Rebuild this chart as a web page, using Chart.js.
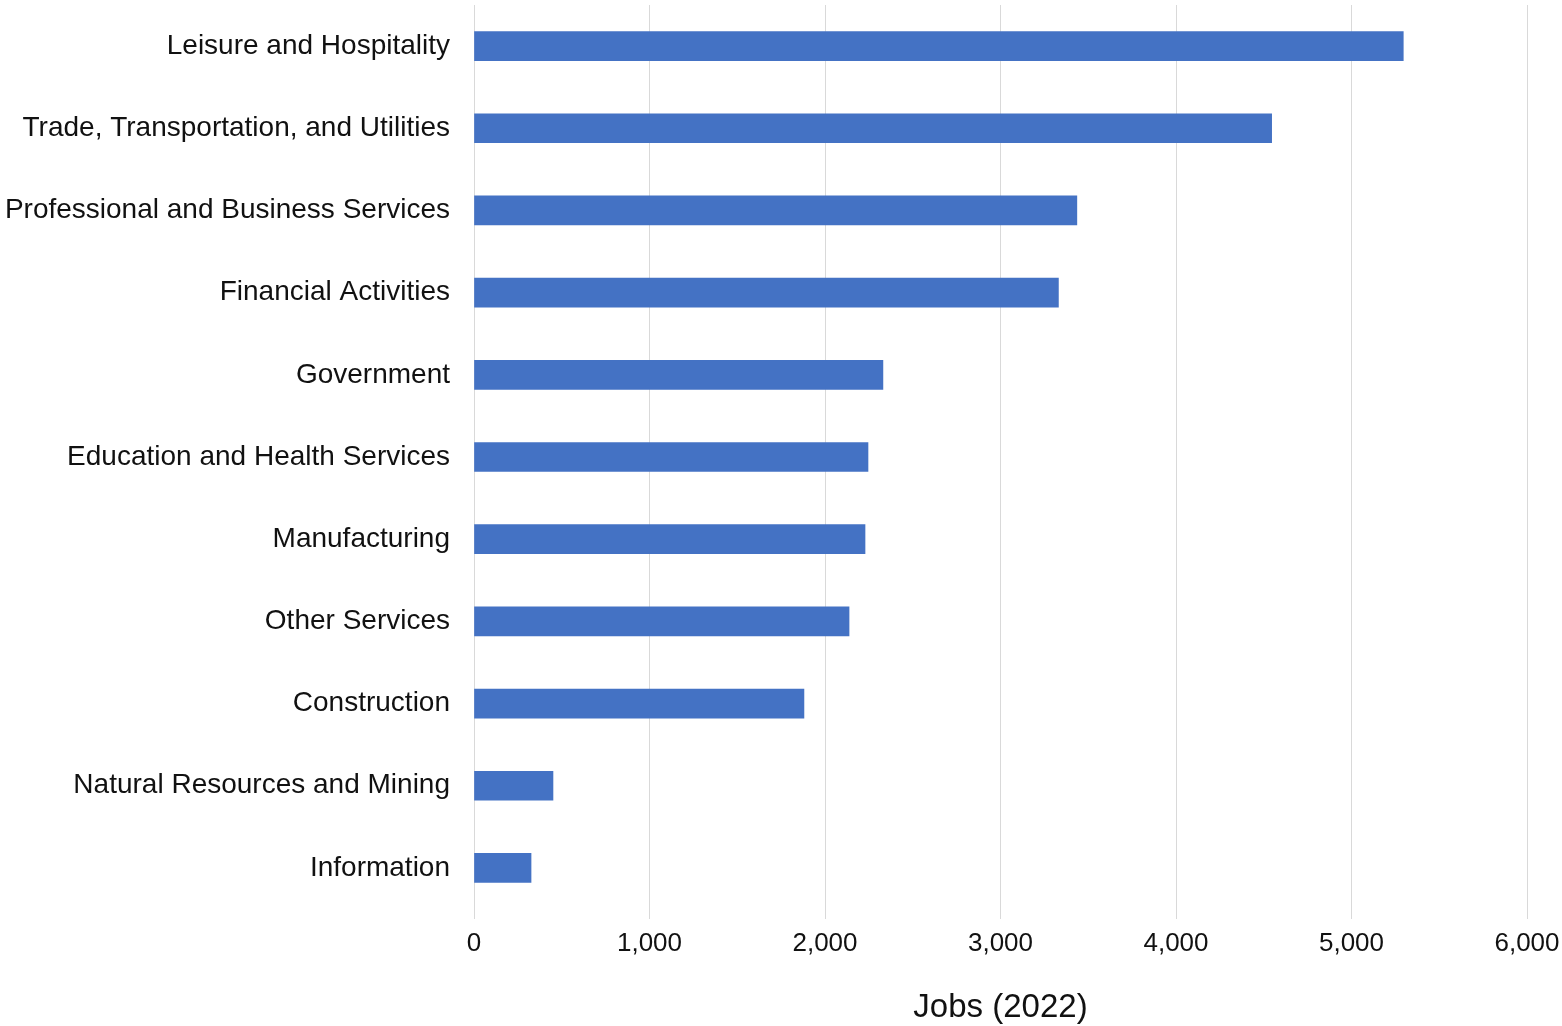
<!DOCTYPE html>
<html>
<head>
<meta charset="utf-8">
<script src="https://cdn.jsdelivr.net/npm/chart.js@4/dist/chart.umd.min.js"></script>
<style>
  html, body { margin: 0; padding: 0; background: #fff; }
  #wrap { width: 1562px; height: 1026px; }
</style>
</head>
<body>
<div id="wrap"><canvas id="chart" width="1562" height="1026"></canvas></div>
<script>
const categories = [
    "Leisure and Hospitality",
    "Trade, Transportation, and Utilities",
    "Professional and Business Services",
    "Financial Activities",
    "Government",
    "Education and Health Services",
    "Manufacturing",
    "Other Services",
    "Construction",
    "Natural Resources and Mining",
    "Information"
];
const jobs = [5295, 4545, 3435, 3330, 2330, 2245, 2228, 2137, 1880, 450, 325];
const xTicks = [0, 1000, 2000, 3000, 4000, 5000, 6000];
const axisTitle = "Jobs (2022)";

const fontFamily = "'Liberation Sans', Arial, sans-serif";

const ctx = document.getElementById('chart');
new Chart(ctx, {
    type: 'bar',
    data: {
        labels: categories,
        datasets: [{
            label: axisTitle,
            data: jobs,
            backgroundColor: '#4472C4',
            borderWidth: 0,
            barThickness: 29
        }]
    },
    options: {
        indexAxis: 'y',
        responsive: false,
        animation: false,
        layout: { padding: { top: 5, right: 35, bottom: 0, left: 0 } },
        plugins: {
            legend: { display: false },
            tooltip: { enabled: false }
        },
        scales: {
            x: {
                min: 0,
                max: 6000,
                afterBuildTicks: function(axis){
                    axis.ticks = xTicks.map(v => ({ value: v }));
                },
                afterFit: function(axis){
                    axis.height = 117;
                    axis.paddingLeft = 0;
                    axis.paddingRight = 0;
                },
                grid: {
                    color: '#d9d9d9',
                    lineWidth: 1,
                    tickLength: 10,
                    drawTicks: true
                },
                border: { display: false },
                ticks: {
                    color: '#111',
                    padding: 9,
                    font: { family: fontFamily, size: 26 },
                    callback: function(v){ return v.toLocaleString('en-US'); }
                },
                title: {
                    display: true,
                    text: axisTitle,
                    color: '#111',
                    font: { family: fontFamily, size: 33, lineHeight: 1.1 },
                    padding: { top: 20, bottom: 0 }
                }
            },
            y: {
                afterFit: function(axis){
                    axis.width = 474;
                    axis.paddingTop = 0;
                    axis.paddingBottom = 0;
                },
                grid: { display: false, drawTicks: false },
                border: { display: false },
                ticks: {
                    color: '#111',
                    padding: 24,
                    font: { family: fontFamily, size: 28 }
                }
            }
        }
    }
});
</script>
</body>
</html>
